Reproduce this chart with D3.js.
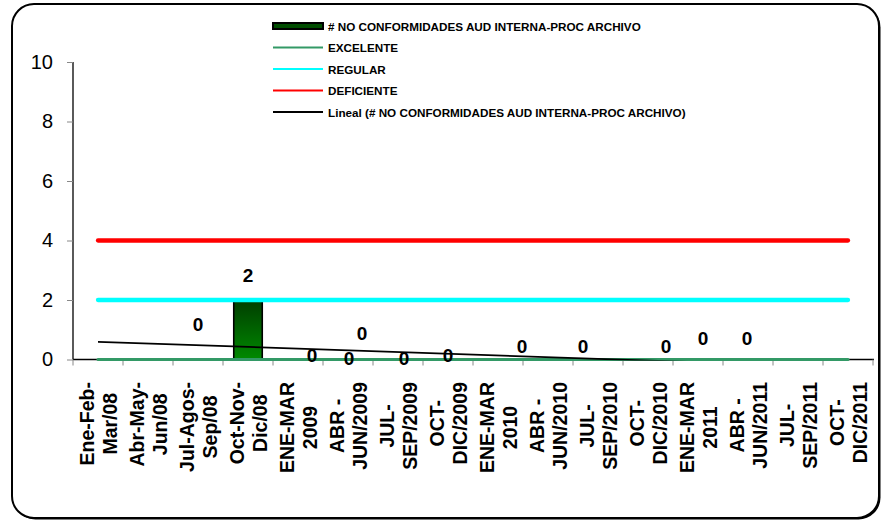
<!DOCTYPE html>
<html>
<head>
<meta charset="utf-8">
<script src="https://cdn.jsdelivr.net/npm/d3@7"></script>
<style>
  html, body { margin: 0; padding: 0; background: #fff; }
  svg { display: block; font-family: "Liberation Sans", Arial, sans-serif; }
</style>
</head>
<body>
<svg id="chart" width="882" height="522"></svg>
<script>
// ---- data ----
const categories = [
  "Ene-Feb-\nMar/08", "Abr-May-\nJun/08", "Jul-Agos-\nSep/08", "Oct-Nov-\nDic/08",
  "ENE-MAR\n2009", "ABR -\nJUN/2009", "JUL-\nSEP/2009", "OCT-\nDIC/2009",
  "ENE-MAR\n2010", "ABR -\nJUN/2010", "JUL-\nSEP/2010", "OCT-\nDIC/2010",
  "ENE-MAR\n2011", "ABR -\nJUN/2011", "JUL-\nSEP/2011", "OCT-\nDIC/2011"
];
const noConformidades = [null, null, 0, 2, 0, 0, 0, 0, 0, 0, 0, 0, 0, null, null, null];
const excelente  = [0, 0, 0, 0, 0, 0, 0, 0, 0, 0, 0, 0, 0, 0, 0, 0];
const regular    = [2, 2, 2, 2, 2, 2, 2, 2, 2, 2, 2, 2, 2, 2, 2, 2];
const deficiente = [4, 4, 4, 4, 4, 4, 4, 4, 4, 4, 4, 4, 4, 4, 4, 4];
// linear trend read at first and last category
const trendValues = [0.594, -0.264];
const yTicks = [0, 2, 4, 6, 8, 10];
// data labels (manually placed in source chart), anchors in data units
const labelTexts = ["0", "2", "0", "0", "0", "0", "0", "0", "0", "0", "0", "0"];
const labelCat   = [2.0, 3.0, 4.28, 5.02, 5.28, 6.12, 7.0, 8.48, 9.7, 11.36, 12.1, 12.98];
const labelVal   = [1.16, 2.81, 0.12, 0.05, 0.86, 0.05, 0.12, 0.45, 0.45, 0.45, 0.72, 0.72];
const legendNames = [
  "# NO CONFORMIDADES AUD INTERNA-PROC ARCHIVO", "EXCELENTE", "REGULAR", "DEFICIENTE",
  "Lineal (# NO CONFORMIDADES AUD INTERNA-PROC ARCHIVO)"
];

// ---- layout ----
const svg = d3.select("#chart");
const plot = { left: 73, right: 873, top: 62, bottom: 359.5 };

// frame
svg.append("rect").attr("x", 13.5).attr("y", 5.5).attr("width", 867).attr("height", 514)
  .attr("rx", 22).attr("fill", "#000");
svg.append("rect").attr("x", 12).attr("y", 4).attr("width", 867).attr("height", 514)
  .attr("rx", 22).attr("fill", "#fff").attr("stroke", "#000").attr("stroke-width", 2);

const x = d3.scaleBand().domain(d3.range(categories.length))
  .range([plot.left, plot.right]).paddingInner(0).paddingOuter(0);
const xc = i => x(0) + x.bandwidth() * (i + 0.5);
const y = d3.scaleLinear().domain([0, 10]).range([plot.bottom, plot.top]);

const defs = svg.append("defs");
const grad = defs.append("linearGradient").attr("id", "barGrad")
  .attr("x1", 0).attr("y1", 0).attr("x2", 0).attr("y2", 1);
grad.append("stop").attr("offset", "0%").attr("stop-color", "#003d00");
grad.append("stop").attr("offset", "100%").attr("stop-color", "#008a00");
defs.append("clipPath").attr("id", "plotClip").append("rect")
  .attr("x", plot.left).attr("y", plot.top - 5)
  .attr("width", plot.right - plot.left).attr("height", plot.bottom - plot.top + 6);

// y axis
const yAxis = d3.axisLeft(y).tickValues(yTicks).tickSize(6).tickPadding(14);
const gy = svg.append("g").attr("transform", `translate(${plot.left},0)`).call(yAxis)
  .attr("font-family", "Liberation Sans, Arial, sans-serif");
gy.select(".domain").attr("stroke", "#000").attr("stroke-width", 1.3).attr("d", `M0,${plot.top}V${plot.bottom}`);
gy.selectAll(".tick line").attr("stroke", "#888");
gy.selectAll(".tick text").attr("font-size", 20).attr("fill", "#000");

// x axis
const xAxis = d3.axisBottom(x).tickSize(0).tickFormat("");
const gx = svg.append("g").attr("transform", `translate(0,${plot.bottom})`).call(xAxis);
gx.select(".domain").attr("stroke", "#000").attr("stroke-width", 1.3).attr("d", `M${plot.left},0H${plot.right + 1}`);
gx.selectAll(".tick").remove();
gx.selectAll(".xtick").data(d3.range(categories.length + 1)).enter().append("line")
  .attr("x1", i => x(0) + i * x.bandwidth()).attr("x2", i => x(0) + i * x.bandwidth())
  .attr("y1", 0).attr("y2", 6).attr("stroke", "#888");

// bars
const bw = x.bandwidth() * 0.57;
svg.append("g").selectAll("rect").data(noConformidades.map((v, i) => ({ v, i })).filter(d => d.v))
  .enter().append("rect")
  .attr("x", d => xc(d.i) - bw / 2).attr("y", d => y(d.v))
  .attr("width", bw).attr("height", d => y(0) - y(d.v))
  .attr("fill", "url(#barGrad)").attr("stroke", "#000").attr("stroke-width", 1.6);

// reference lines
const line = d3.line().x((d, i) => xc(i)).y(d => y(d));
[[excelente, "#339966", 3], [regular, "#00ffff", 4.3], [deficiente, "#ff0000", 4.3]].forEach(([arr, c, w]) => {
  svg.append("path").datum(arr).attr("d", line).attr("fill", "none")
    .attr("stroke", c).attr("stroke-width", w).attr("stroke-linecap", "round");
});

// trend line
svg.append("path").datum(trendValues)
  .attr("d", d3.line().x((d, i) => xc(i * (categories.length - 1))).y(d => y(d)))
  .attr("fill", "none").attr("stroke", "#000").attr("stroke-width", 1.8)
  .attr("clip-path", "url(#plotClip)");

// data labels
svg.append("g").selectAll("text").data(labelTexts).enter().append("text")
  .attr("x", (d, i) => xc(labelCat[i])).attr("y", (d, i) => y(labelVal[i]))
  .attr("text-anchor", "middle").attr("dominant-baseline", "central")
  .attr("font-size", 19).attr("font-weight", "bold").attr("fill", "#000").text(d => d);

// x category labels
const lh = 22.7, topY = 382;
categories.forEach((c, i) => {
  const lines = c.split("\n");
  const g = svg.append("g");
  const t = g.append("text").attr("font-size", 19.5).attr("font-weight", "bold")
    .attr("text-anchor", "middle").attr("dominant-baseline", "central").attr("fill", "#000");
  lines.forEach((l, k) => {
    t.append("tspan").attr("x", 0).attr("y", (k - (lines.length - 1) / 2) * lh).text(l);
  });
  let maxLen = 0;
  t.selectAll("tspan").each(function () { maxLen = Math.max(maxLen, this.getComputedTextLength()); });
  g.attr("transform", `translate(${xc(i) + 0.5},${topY + maxLen / 2}) rotate(-90)`);
});

// legend
const lg = svg.append("g");
const legX = 273, legY0 = 26, legDy = 21.5;
legendNames.forEach((n, k) => {
  const yy = legY0 + k * legDy;
  if (k === 0) {
    lg.append("rect").attr("x", legX).attr("y", yy - 3).attr("width", 50).attr("height", 6)
      .attr("fill", "#004d00").attr("stroke", "#000").attr("stroke-width", 2);
  } else {
    const col = ["", "#339966", "#00ffff", "#ff0000", "#000"][k];
    lg.append("line").attr("x1", legX).attr("x2", legX + 50).attr("y1", yy).attr("y2", yy)
      .attr("stroke", col).attr("stroke-width", 2);
  }
  lg.append("text").attr("x", legX + 55).attr("y", yy).attr("dominant-baseline", "central")
    .attr("font-size", 11.7).attr("font-weight", "bold").attr("fill", "#000").text(n);
});
</script>
</body>
</html>
